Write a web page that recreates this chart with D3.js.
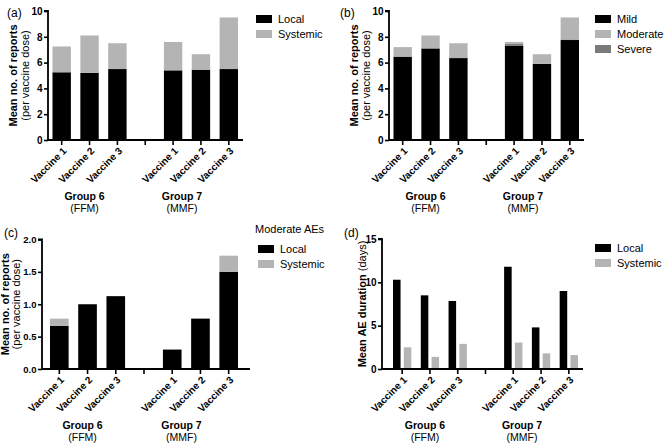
<!DOCTYPE html>
<html><head><meta charset="utf-8">
<script src="https://cdn.jsdelivr.net/npm/d3@7"></script>
<style>
body{margin:0;background:#fff;}
text{font-family:"Liberation Sans",Arial,Helvetica,sans-serif;fill:#000;}
</style></head>
<body>
<svg id="chart" width="664" height="444"></svg>
<script>
// ---------- data ----------
const slots = ["G6 Vaccine 1","G6 Vaccine 2","G6 Vaccine 3","gap","G7 Vaccine 1","G7 Vaccine 2","G7 Vaccine 3"];
const slotLabels = ["Vaccine 1","Vaccine 2","Vaccine 3","","Vaccine 1","Vaccine 2","Vaccine 3"];
const barSlots = ["G6 Vaccine 1","G6 Vaccine 2","G6 Vaccine 3","G7 Vaccine 1","G7 Vaccine 2","G7 Vaccine 3"];
const groupNames = ["Group 6","Group 7"];
const groupSubs = ["(FFM)","(MMF)"];

// (a) mean no. of reports
const aLocal    = [5.25, 5.2, 5.5, 5.4, 5.45, 5.5];
const aSystemic = [2.0, 2.9, 2.0, 2.2, 1.2, 4.0];
// (b) by severity
const bMild     = [6.45, 7.1, 6.35, 7.3, 5.9, 7.75];
const bSevere   = [0.03, 0.0, 0.05, 0.15, 0.0, 0.05];
const bModerate = [0.72, 1.0, 1.1, 0.15, 0.75, 1.7];
// (c) moderate AEs
const cLocal    = [0.667, 1.0, 1.125, 0.3, 0.778, 1.5];
const cSystemic = [0.111, 0, 0, 0, 0, 0.25];
// (d) mean AE duration (days)
const dLocal    = [10.3, 8.5, 7.85, 11.8, 4.8, 9.0];
const dSystemic = [2.5, 1.4, 2.9, 3.05, 1.8, 1.6];

const yTicksA = [0,2,4,6,8,10];
const yTicksC = [0,0.5,1.0,1.5,2.0];
const yTicksD = [0,5,10,15];

const BLACK="#000000", LIGHT="#b4b4b4", MID="#7a7a7a";

const svg = d3.select("#chart");

function panel(cfg){
  const g = svg.append("g").attr("transform",`translate(${cfg.ox},${cfg.oy})`);
  const y = d3.scaleLinear().domain(cfg.yDomain).range([cfg.y0, cfg.yTop]);
  const x = d3.scaleBand().domain(slots).range(cfg.barRange).paddingInner(0.34).paddingOuter(0);

  // bars
  if(cfg.type==="stack"){
    const rows = barSlots.map((s,i)=>{const r={slot:s}; cfg.series.forEach(se=>r[se.key]=se.values[i]); return r;});
    const stack = d3.stack().keys(cfg.series.map(s=>s.key))(rows);
    stack.forEach((layer,li)=>{
      g.append("g").selectAll("rect").data(layer).join("rect")
        .attr("x",d=>x(d.data.slot)).attr("width",x.bandwidth())
        .attr("y",d=>y(d[1])).attr("height",d=>Math.max(0,y(d[0])-y(d[1])))
        .attr("fill",cfg.series[li].color);
    });
  } else {
    const x1 = d3.scaleBand().domain(cfg.series.map(s=>s.key)).range([0,x.bandwidth()]).paddingInner(0.3);
    cfg.series.forEach(se=>{
      g.append("g").selectAll("rect").data(se.values).join("rect")
        .attr("x",(d,i)=>x(barSlots[i])+x1(se.key)).attr("width",x1.bandwidth())
        .attr("y",d=>y(d)).attr("height",d=>y(0)-y(d))
        .attr("fill",se.color);
    });
  }

  // y axis
  const ya = g.append("g").attr("transform",`translate(${cfg.axisX},0)`)
    .call(d3.axisLeft(y).tickValues(cfg.yTicks).tickSize(4).tickPadding(1.5).tickFormat(cfg.yFmt));
  ya.select(".domain").attr("stroke-width",1.8).attr("d",`M-0,${y(cfg.yDomain[0])}V${y(cfg.yDomain[1])}H-4`);
  ya.selectAll(".tick line").attr("stroke-width",1.6);
  ya.selectAll("text").style("font-size",cfg.tickFont||"10px").style("font-weight","bold").attr("font-family",null);

  // x axis
  const xa = g.append("g").attr("transform",`translate(0,${cfg.y0})`);
  xa.append("path").attr("d",`M${cfg.axisX},0H${cfg.xEnd}`).attr("stroke","#000").attr("stroke-width",1.8).attr("fill","none");
  xa.selectAll("line.t").data(slots).join("line").attr("class","t")
    .attr("x1",d=>x(d)+x.bandwidth()/2).attr("x2",d=>x(d)+x.bandwidth()/2)
    .attr("y1",0).attr("y2",5).attr("stroke","#000").attr("stroke-width",1.6);
  xa.selectAll("text.v").data(slots).join("text").attr("class","v")
    .attr("transform",d=>`translate(${x(d)+x.bandwidth()/2+3},${9}) rotate(-45)`)
    .attr("text-anchor","end").attr("dy","0.35em")
    .style("font-size","10px").style("font-weight","bold")
    .text((d,i)=>slotLabels[i]);

  // group labels
  const gx = [x(slots[1])+x.bandwidth()/2-5, x(slots[5])+x.bandwidth()/2-19];
  groupNames.forEach((n,i)=>{
    g.append("text").attr("x",gx[i]).attr("y",cfg.y0+60).attr("text-anchor","middle")
      .style("font-size","10.5px").style("font-weight","bold").text(n);
    g.append("text").attr("x",gx[i]).attr("y",cfg.y0+72).attr("text-anchor","middle")
      .style("font-size","10.5px").text(groupSubs[i]);
  });

  // panel letter
  g.append("text").attr("x",cfg.letterX).attr("y",cfg.letterY).style("font-size","12px").text(cfg.letter);

  // y label
  const cy = (cfg.y0+cfg.yTop)/2;
  if(cfg.yLabel2){
    g.append("text").attr("transform",`translate(${cfg.yLabelX},${cy}) rotate(-90)`).attr("text-anchor","middle")
      .style("font-size","11px").style("font-weight","bold").text(cfg.yLabel);
    g.append("text").attr("transform",`translate(${cfg.yLabelX+(cfg.yLabelGap||12)},${cy}) rotate(-90)`).attr("text-anchor","middle")
      .style("font-size","11px").text(cfg.yLabel2);
  } else {
    const t = g.append("text").attr("transform",`translate(${cfg.yLabelX},${cy}) rotate(-90)`).attr("text-anchor","middle")
      .style("font-size","11px");
    t.append("tspan").style("font-weight","bold").text(cfg.yLabel);
    t.append("tspan").text(" "+cfg.yLabelTail);
  }

  // legend
  const lg = g.append("g").attr("transform",`translate(${cfg.legX},${cfg.legY})`);
  if(cfg.legTitle){
    lg.append("text").attr("x",-3).attr("y",-12).style("font-size","11px").text(cfg.legTitle);
  }
  cfg.legend.forEach((l,i)=>{
    lg.append("rect").attr("x",0).attr("y",i*15).attr("width",16).attr("height",8).attr("fill",l.color);
    lg.append("text").attr("x",22).attr("y",i*15+8).style("font-size","11px").text(l.key);
  });
}

panel({ox:0,oy:0,letter:"(a)",letterX:7,letterY:17,y0:140,yTop:11,yDomain:[0,10],yTicks:yTicksA,yFmt:d3.format("d"),
  barRange:[52.5,238],axisX:48,xEnd:243,type:"stack",
  series:[{key:"Local",values:aLocal,color:BLACK},{key:"Systemic",values:aSystemic,color:LIGHT}],
  legend:[{key:"Local",color:BLACK},{key:"Systemic",color:LIGHT}],legX:256,legY:15,
  yLabel:"Mean no. of reports",yLabel2:"(per vaccine dose)",yLabelX:17});

panel({ox:341,oy:0,letter:"(b)",letterX:-1,letterY:17,y0:140,yTop:11,yDomain:[0,10],yTicks:yTicksA,yFmt:d3.format("d"),
  barRange:[52.5,238],axisX:48,xEnd:243,type:"stack",
  series:[{key:"Mild",values:bMild,color:BLACK},{key:"Severe",values:bSevere,color:MID},{key:"Moderate",values:bModerate,color:LIGHT}],
  legend:[{key:"Mild",color:BLACK},{key:"Moderate",color:LIGHT},{key:"Severe",color:MID}],legX:254,legY:15,
  yLabel:"Mean no. of reports",yLabel2:"(per vaccine dose)",yLabelX:17});

panel({ox:0,oy:222,letter:"(c)",letterX:4,letterY:15,y0:147,yTop:17.5,yDomain:[0,2],yTicks:yTicksC,yFmt:d3.format(".1f"),
  barRange:[50,238],axisX:42,xEnd:250,type:"stack",tickFont:"9.5px",
  series:[{key:"Local",values:cLocal,color:BLACK},{key:"Systemic",values:cSystemic,color:LIGHT}],
  legend:[{key:"Local",color:BLACK},{key:"Systemic",color:LIGHT}],legX:258,legY:23,legTitle:"Moderate AEs",
  yLabel:"Mean no. of reports",yLabel2:"(per vaccine dose)",yLabelX:9,yLabelGap:11});

panel({ox:332,oy:222,letter:"(d)",letterX:12,letterY:15,y0:147,yTop:17,yDomain:[0,15],yTicks:yTicksD,yFmt:d3.format("d"),
  barRange:[61,246],axisX:50,xEnd:251,type:"group",
  series:[{key:"Local",values:dLocal,color:BLACK},{key:"Systemic",values:dSystemic,color:LIGHT}],
  legend:[{key:"Local",color:BLACK},{key:"Systemic",color:LIGHT}],legX:263,legY:22,
  yLabel:"Mean AE duration",yLabelTail:"(days)",yLabelX:34});
</script>
</body></html>
